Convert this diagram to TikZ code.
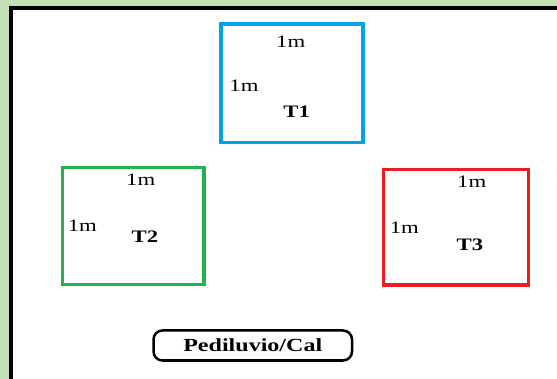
\documentclass[tikz,border=0pt]{standalone}
\usepackage{fontspec}
\setmainfont{Liberation Serif}
\newfontfamily\cf[FakeStretch=1.3]{Liberation Serif}
\definecolor{bggreen}{HTML}{C5E0B4}
\definecolor{tblue}{HTML}{00A2E8}
\definecolor{tgreen}{HTML}{22B14C}
\definecolor{tred}{HTML}{ED1C24}
\tikzset{
  plot/.style={draw, line width=3.4pt, minimum width=#1, inner sep=0pt},
  lbl/.style={font=\cf\fontsize{17.5}{19}\selectfont, inner sep=0pt, text=black},
  tname/.style={font=\cf\bfseries\fontsize{17.5}{19}\selectfont, inner sep=0pt},
}
\begin{document}
\begin{tikzpicture}[x=1pt,y=-1pt]
\useasboundingbox (0,0) rectangle (557,379);
\clip (0,0) rectangle (557,379);
\fill[bggreen] (0,0) rectangle (557,379);
\fill[white] (11,8) rectangle (600,400);
\coordinate (bl) at (11,400);
\coordinate (tl) at (11,8);
\coordinate (tr) at (600,8);
\draw[line width=4pt] (bl) -- (tl) -- (tr);
% T1
\node[plot=142pt, minimum height=118.5pt, draw=tblue] (t1box) at (292,83.25) {};
\node[lbl] (t1top) at (290.7,41.7) {1m};
\node[lbl] (t1left) at (244,86) {1m};
\node[tname] (t1) at (296.7,111.7) {T1};
% T2
\node[plot=141.3pt, minimum height=116.6pt, draw=tgreen] (t2box) at (133.35,226) {};
\node[lbl] (t2top) at (140.7,179.3) {1m};
\node[lbl] (t2left) at (82.3,226) {1m};
\node[tname] (t2) at (145,236.7) {T2};
% T3
\node[plot=145pt, minimum height=115.7pt, draw=tred] (t3box) at (455.8,227.2) {};
\node[lbl] (t3top) at (471.7,181.7) {1m};
\node[lbl] (t3left) at (404.3,227.7) {1m};
\node[tname] (t3) at (470,245) {T3};
% Pediluvio
\node[draw, line width=2.5pt, rounded corners=9pt, minimum width=198.5pt, minimum height=30pt, inner sep=0pt,
      font=\cf\bfseries\fontsize{18.5}{20}\selectfont] (pedi) at (252.75,345.5) {Pediluvio/Cal};
\end{tikzpicture}
\end{document}
